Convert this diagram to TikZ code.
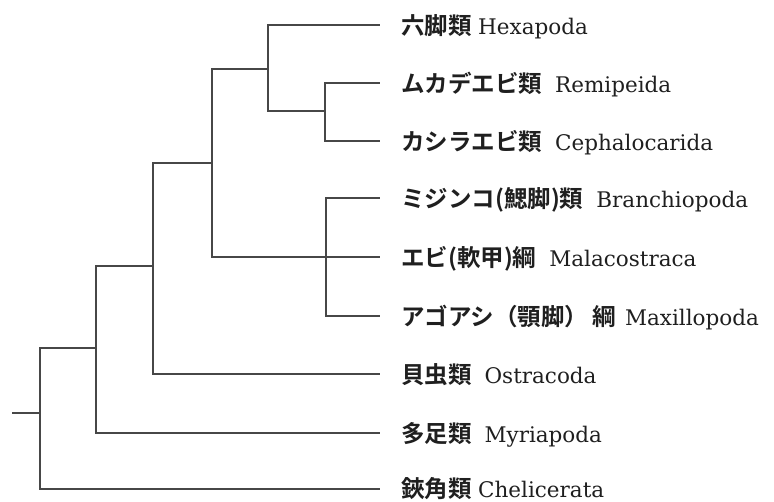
\documentclass[tikz,border=0pt]{standalone}
\usepackage{fontspec}
\setmainfont{DejaVu Serif}
\newfontfamily\cjkfam{Noto Sans CJK JP}[BoldFont={Noto Sans CJK JP Bold}]
\newcommand{\jp}[1]{{\fontsize{23.5}{26}\selectfont\cjkfam\bfseries #1}}
\begin{document}
\begin{tikzpicture}[x=1pt,y=-1pt,
  branch/.style={draw=black!72, line width=1.1pt},
  leaflabel/.style={anchor=base west, inner sep=0pt, font=\fontsize{21.5}{26}\selectfont, text=black!88}]
\useasboundingbox (0,0) rectangle (774,501);
% leaf ends
\coordinate (l1) at (380,25);
\coordinate (l2) at (380,83);
\coordinate (l3) at (380,141);
\coordinate (l4) at (380,198);
\coordinate (l5) at (380,257);
\coordinate (l6) at (380,316);
\coordinate (l7) at (380,374);
\coordinate (l8) at (380,433);
\coordinate (l9) at (380,489);
% internal nodes
\coordinate (nA) at (325,111);
\coordinate (nB) at (268,69);
\coordinate (nC) at (326,257);
\coordinate (nD) at (212,163);
\coordinate (nE) at (153,266);
\coordinate (nF) at (96,348);
\coordinate (nG) at (40,413);
\coordinate (root) at (12,413);
% labels
\node[leaflabel] (t1) at (401,34) {\jp{六脚類}\hspace{0.3em}Hexapoda};
\node[leaflabel] (t2) at (401,92) {\jp{ムカデエビ類}\hspace{0.6em}Remipeida};
\node[leaflabel] (t3) at (401,150) {\jp{カシラエビ類}\hspace{0.6em}Cephalocarida};
\node[leaflabel] (t4) at (401,207) {\jp{ミジンコ(鰓脚)類}\hspace{0.6em}Branchiopoda};
\node[leaflabel] (t5) at (401,266) {\jp{エビ(軟甲)綱}\hspace{0.6em}Malacostraca};
\node[leaflabel] (t6) at (401,325) {\jp{アゴアシ（顎脚）\hspace{0.2em}綱}\hspace{0.4em}Maxillopoda};
\node[leaflabel] (t7) at (401,383) {\jp{貝虫類}\hspace{0.6em}Ostracoda};
\node[leaflabel] (t8) at (401,442) {\jp{多足類}\hspace{0.6em}Myriapoda};
\node[leaflabel] (t9) at (401,497) {\jp{鋏角類}\hspace{0.3em}Chelicerata};
% branches
\draw[branch] (nA) |- (l2);
\draw[branch] (nA) |- (l3);
\draw[branch] (nB) |- (l1);
\draw[branch] (nB) |- (nA);
\draw[branch] (nC) |- (l4);
\draw[branch] (nC) |- (l6);
\draw[branch] (nD) |- (nB);
\draw[branch] (nD) |- (l5);
\draw[branch] (nE) |- (nD);
\draw[branch] (nE) |- (l7);
\draw[branch] (nF) |- (nE);
\draw[branch] (nF) |- (l8);
\draw[branch] (nG) |- (nF);
\draw[branch] (nG) |- (l9);
\draw[branch] (root) -- (nG);
\end{tikzpicture}
\end{document}
